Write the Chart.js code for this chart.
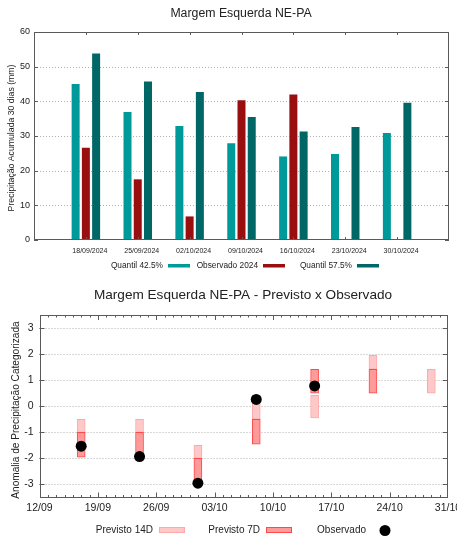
<!DOCTYPE html>
<html>
<head>
<meta charset="utf-8">
<script src="https://cdn.jsdelivr.net/npm/chart.js@4.4.1/dist/chart.umd.min.js"></script>
<style>
  html, body { margin: 0; padding: 0; background: #fff; }
  #wrap { position: relative; width: 457px; height: 538px; }
  .box { position: absolute; left: 0; width: 457px; }
</style>
</head>
<body>
<div id="wrap">
  <div class="box" style="top:0;height:280px"><canvas id="acumulado"></canvas></div>
  <div class="box" style="top:280px;height:258px"><canvas id="anomalia"></canvas></div>
</div>
<script>
// ---------- Precipitação acumulada 30 dias (mm) ----------
const semanas = ['18/09/2024', '25/09/2024', '02/10/2024', '09/10/2024', '16/10/2024', '23/10/2024', '30/10/2024'];
const quantil425 = [45.0, 36.9, 32.9, 27.9, 24.1, 24.8, 30.9];
const observado2024 = [26.6, 17.5, 6.8, 40.3, 42.0, null, null];
const quantil575 = [53.8, 45.7, 42.7, 35.5, 31.3, 32.6, 39.6];
const precipTicks = [0, 10, 20, 30, 40, 50, 60];

// ---------- Anomalia categorizada: previsto x observado ----------
const eixoDatas = ['12/09', '19/09', '26/09', '03/10', '10/10', '17/10', '24/10', '31/10'];
const datasPrevisao = ['17/09', '24/09', '01/10', '08/10', '15/10', '22/10', '29/10'];
const previsto14D = [[-1.0, -0.5], [-1.0, -0.5], [-2.0, -1.5], [-0.5, 0.42], [-0.45, 0.42], [1.42, 1.95], [0.5, 1.42]];
const previsto7D = [[-1.95, -1.0], [-1.95, -1.0], [-2.95, -2.0], [-1.45, -0.5], [0.5, 1.42], [0.5, 1.42], null];
const observado = [-1.53, -1.93, -2.95, 0.26, 0.78, null, null];
const anomaliaTicks = [-3, -2, -1, 0, 1, 2, 3];

const FONT = '"Liberation Sans", Arial, Helvetica, sans-serif';
const TEXT = '#222';
const FRAME = '#5a5a5a';
const GRID = '#b0b0b0';
const TEAL = '#009999';
const RED = '#990f0f';
const DTEAL = '#006666';

function dayIndex(s) {
  const [d, m] = s.split('/').map(Number);
  return Math.round((Date.UTC(2024, m - 1, d) - Date.UTC(2024, 8, 12)) / 864e5);
}
function pad(arr) { return [null, ...arr, null]; }

function drawGrid(ctx, a, yScale, values) {
  ctx.save();
  ctx.strokeStyle = GRID;
  ctx.lineWidth = 1;
  ctx.setLineDash([1, 2]);
  values.forEach(v => {
    const y = Math.round(yScale.getPixelForValue(v)) + 0.5;
    ctx.beginPath(); ctx.moveTo(a.left, y); ctx.lineTo(a.right, y); ctx.stroke();
  });
  ctx.restore();
}
function drawFrame(ctx, a) {
  ctx.save();
  ctx.strokeStyle = FRAME;
  ctx.lineWidth = 1;
  const l = Math.round(a.left) + 0.5, r = Math.round(a.right) - 0.5;
  const t = Math.round(a.top) + 0.5, b = Math.round(a.bottom) - 0.5;
  ctx.strokeRect(l, t, r - l, b - t);
  ctx.restore();
}
function hTick(ctx, x, y, len) {
  ctx.beginPath(); ctx.moveTo(x, y); ctx.lineTo(x + len, y); ctx.stroke();
}
function vTick(ctx, x, y, len) {
  ctx.beginPath(); ctx.moveTo(x, y); ctx.lineTo(x, y + len); ctx.stroke();
}

// ---------- chart 1 ----------
const decorAcumulado = {
  id: 'decorAcumulado',
  beforeDatasetsDraw(chart) {
    drawGrid(chart.ctx, chart.chartArea, chart.scales.y, [10, 20, 30, 40, 50]);
  },
  afterDatasetsDraw(chart) {
    const { ctx, chartArea: a, scales: { x, y } } = chart;
    ctx.save();
    ctx.strokeStyle = FRAME;
    ctx.lineWidth = 1;
    precipTicks.forEach(v => {
      const py = Math.round(y.getPixelForValue(v)) + 0.5;
      hTick(ctx, a.left, py, 4);
      hTick(ctx, a.right, py, -4);
    });
    semanas.forEach((s, i) => {
      const px = Math.round(x.getPixelForValue(i + 1)) + 0.5;
      vTick(ctx, px, a.top, 3);
      vTick(ctx, px, a.bottom, -3);
    });
    ctx.restore();
    drawFrame(ctx, a);
  },
  afterDraw(chart) {
    const ctx = chart.ctx;
    ctx.save();
    ctx.fillStyle = TEXT;
    ctx.textAlign = 'center';
    ctx.textBaseline = 'middle';
    ctx.font = '12.3px ' + FONT;
    ctx.fillText('Margem Esquerda NE-PA', 241, 14);

    ctx.save();
    ctx.translate(11.5, 138);
    ctx.rotate(-Math.PI / 2);
    ctx.font = '8.7px ' + FONT;
    ctx.fillText('Precipitação Acumulada 30 dias (mm)', 0, 0);
    ctx.restore();

    const items = [
      { text: 'Quantil 42.5%', color: TEAL, x: 168 },
      { text: 'Observado 2024', color: RED, x: 263 },
      { text: 'Quantil 57.5%', color: DTEAL, x: 357 }
    ];
    ctx.font = '8.3px ' + FONT;
    ctx.textAlign = 'right';
    items.forEach(it => {
      ctx.fillStyle = TEXT;
      ctx.fillText(it.text, it.x - 5, 265.5);
      ctx.fillStyle = it.color;
      ctx.fillRect(it.x, 264, 22, 3.5);
    });
    ctx.restore();
  }
};

const barOpts = { categoryPercentage: 0.5925, barPercentage: 0.78 };

new Chart(document.getElementById('acumulado'), {
  type: 'bar',
  data: {
    labels: pad(semanas).map(s => s || ''),
    datasets: [
      { label: 'Quantil 42.5%', data: pad(quantil425), backgroundColor: TEAL, ...barOpts },
      { label: 'Observado 2024', data: pad(observado2024), backgroundColor: RED, ...barOpts },
      { label: 'Quantil 57.5%', data: pad(quantil575), backgroundColor: DTEAL, ...barOpts }
    ]
  },
  options: {
    responsive: true,
    maintainAspectRatio: false,
    animation: false,
    devicePixelRatio: 1,
    events: [],
    layout: { padding: { top: 32, right: 8, left: 0, bottom: 0 } },
    plugins: { legend: { display: false }, title: { display: false }, tooltip: { enabled: false } },
    scales: {
      x: {
        offset: false,
        grid: { display: false, drawTicks: false },
        border: { display: false },
        ticks: { font: { family: FONT, size: 7 }, color: TEXT, maxRotation: 0, minRotation: 0, autoSkip: false, padding: 7, labelOffset: 4 },
        afterFit(s) { s.height = 40; s.paddingLeft = 0; s.paddingRight = 0; }
      },
      y: {
        min: 0, max: 60,
        grid: { display: false, drawTicks: false },
        border: { display: false },
        ticks: { stepSize: 10, font: { family: FONT, size: 9 }, color: TEXT, padding: 4 },
        afterFit(s) { s.width = 34; s.paddingTop = 0; s.paddingBottom = 0; }
      }
    }
  },
  plugins: [decorAcumulado]
});

// ---------- chart 2 ----------
const decorAnomalia = {
  id: 'decorAnomalia',
  beforeDatasetsDraw(chart) {
    drawGrid(chart.ctx, chart.chartArea, chart.scales.y, anomaliaTicks);
  },
  afterDatasetsDraw(chart) {
    const { ctx, chartArea: a, scales: { x, y } } = chart;
    ctx.save();
    ctx.strokeStyle = FRAME;
    ctx.lineWidth = 1;
    anomaliaTicks.forEach(v => {
      const py = Math.round(y.getPixelForValue(v)) + 0.5;
      hTick(ctx, a.left, py, 5);
      hTick(ctx, a.right, py, -5);
    });
    for (let d = 1; d < 49; d++) {
      const px = Math.round(x.getPixelForValue(d)) + 0.5;
      const len = d % 7 === 0 ? 5 : 2.5;
      vTick(ctx, px, a.top, len);
      vTick(ctx, px, a.bottom, -len);
    }
    ctx.restore();
    drawFrame(ctx, a);
  },
  afterDraw(chart) {
    const ctx = chart.ctx;
    ctx.save();
    ctx.fillStyle = TEXT;
    ctx.textAlign = 'center';
    ctx.textBaseline = 'middle';
    ctx.font = '13.6px ' + FONT;
    ctx.fillText('Margem Esquerda NE-PA - Previsto x Observado', 243, 15);

    ctx.save();
    ctx.translate(16.5, 130);
    ctx.rotate(-Math.PI / 2);
    ctx.font = '10.1px ' + FONT;
    ctx.fillText('Anomalia de Precipitação Categorizada', 0, 0);
    ctx.restore();

    ctx.font = '10px ' + FONT;
    ctx.textAlign = 'right';
    const ly = 250;
    ctx.fillText('Previsto 14D', 153, ly);
    ctx.fillText('Previsto 7D', 260, ly);
    ctx.fillText('Observado', 366, ly);

    ctx.lineWidth = 1;
    ctx.fillStyle = '#ffc8c8'; ctx.strokeStyle = '#ffa8a8';
    ctx.fillRect(159.5, 247.5, 25, 5); ctx.strokeRect(159.5, 247.5, 25, 5);
    ctx.fillStyle = '#ff9a9a'; ctx.strokeStyle = '#ff4848';
    ctx.fillRect(266.5, 247.5, 25, 5); ctx.strokeRect(266.5, 247.5, 25, 5);
    ctx.fillStyle = '#000';
    ctx.beginPath(); ctx.arc(385, 250.5, 5.5, 0, Math.PI * 2); ctx.fill();
    ctx.restore();
  }
};

const obsPoints = [];
const p7Points = [];
const p14Points = [];
datasPrevisao.forEach((d, i) => {
  const x = dayIndex(d);
  if (observado[i] !== null) obsPoints.push({ x, y: observado[i] });
  if (previsto7D[i]) p7Points.push({ x, y: previsto7D[i] });
  if (previsto14D[i]) p14Points.push({ x, y: previsto14D[i] });
});

new Chart(document.getElementById('anomalia'), {
  type: 'bar',
  data: {
    datasets: [
      { type: 'scatter', label: 'Observado', data: obsPoints, backgroundColor: '#000', borderColor: '#000', borderWidth: 0, pointRadius: 5.5, showLine: false },
      { type: 'bar', label: 'Previsto 7D', data: p7Points, backgroundColor: '#ff9a9a', borderColor: '#ff4848', borderWidth: 1, borderSkipped: false, barThickness: 8, grouped: false },
      { type: 'bar', label: 'Previsto 14D', data: p14Points, backgroundColor: '#ffc8c8', borderColor: '#ffa8a8', borderWidth: 1, borderSkipped: false, barThickness: 8, grouped: false }
    ]
  },
  options: {
    responsive: true,
    maintainAspectRatio: false,
    animation: false,
    devicePixelRatio: 1,
    events: [],
    layout: { padding: { top: 35, right: 9, left: 0, bottom: 0 } },
    plugins: { legend: { display: false }, title: { display: false }, tooltip: { enabled: false } },
    scales: {
      x: {
        type: 'linear',
        min: 0, max: 49,
        offset: false,
        grid: { display: false, drawTicks: false },
        border: { display: false },
        ticks: {
          stepSize: 7, autoSkip: false, maxRotation: 0, minRotation: 0,
          font: { family: FONT, size: 10.5 }, color: TEXT, padding: 4,
          callback: v => eixoDatas[v / 7] ?? ''
        },
        afterFit(s) { s.height = 40.5; s.paddingLeft = 0; s.paddingRight = 0; }
      },
      y: {
        min: -3.5, max: 3.5,
        grid: { display: false, drawTicks: false },
        border: { display: false },
        ticks: { font: { family: FONT, size: 10.5 }, color: TEXT, padding: 6 },
        afterBuildTicks(s) { s.ticks = anomaliaTicks.map(v => ({ value: v })); },
        afterFit(s) { s.width = 39.5; s.paddingTop = 0; s.paddingBottom = 0; }
      }
    }
  },
  plugins: [decorAnomalia]
});
</script>
</body>
</html>
